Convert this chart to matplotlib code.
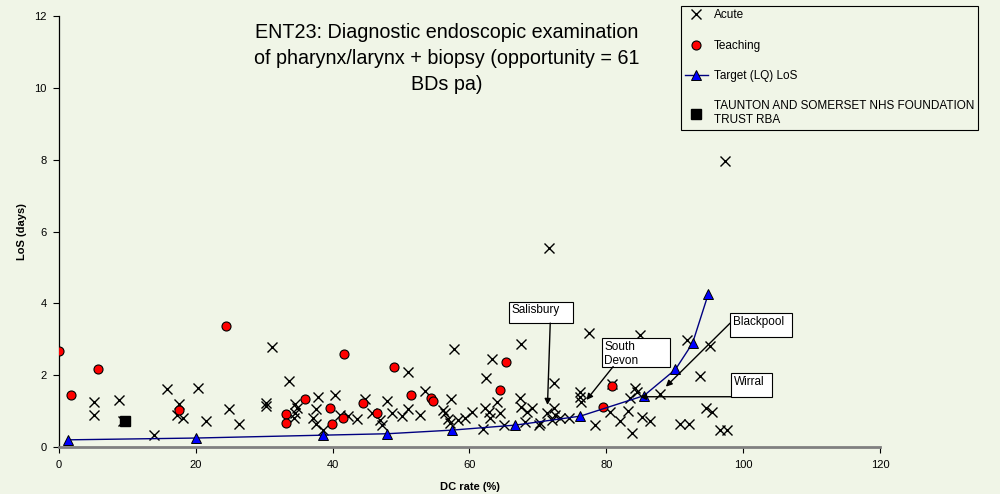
import matplotlib
matplotlib.use("Agg")
import matplotlib.pyplot as plt
from matplotlib.patches import Rectangle

BG = "#F0F5E7"

# Acute trusts (DC rate %, LoS days)
acute_x = [5.1, 5.1, 8.8, 9.3, 13.9, 15.8, 17.6, 17.3, 18.1, 20.3, 21.5, 24.8, 26.3,
           30.2, 30.2, 31.2, 33.6, 34.5, 34.8, 34.5, 34.4, 37.9, 37.6, 37.1, 37.6, 38.6,
           40.3, 41.1, 42.2, 43.5, 44.7, 45.7, 46.9, 47.2, 47.9, 48.7, 50.2, 51.0, 51.0,
           52.8, 53.5, 56.1, 56.4, 56.9, 57.2, 57.3, 57.8, 58.3, 59.3, 60.3,
           62.0, 62.3, 62.8, 63.0, 62.4, 63.3, 64.0, 64.5, 65.0, 67.6, 67.4, 67.6, 68.4,
           69.1, 68.1, 70.1, 71.6, 72.3, 71.3, 72.3, 72.5, 72.0, 73.2, 70.3, 74.5, 77.5,
           76.1, 76.1, 76.3, 78.4, 80.6, 80.8, 82.0, 83.2, 83.5, 84.2, 84.5, 83.7, 84.9,
           85.2, 86.4, 87.9, 90.8, 92.1, 91.8, 93.7, 94.6, 95.5, 95.1, 96.6, 97.6, 97.4]
acute_y = [1.26, 0.88, 1.31, 0.73, 0.34, 1.61, 1.20, 0.89, 0.80, 1.65, 0.72, 1.06, 0.63,
           1.22, 1.13, 2.79, 1.83, 1.20, 1.10, 0.94, 0.80, 1.38, 1.07, 0.80, 0.63, 0.47,
           1.45, 0.89, 0.86, 0.77, 1.34, 0.94, 0.75, 0.61, 1.29, 0.94, 0.86, 1.06, 2.09,
           0.89, 1.55, 1.03, 0.94, 0.77, 0.66, 1.33, 2.74, 0.75, 0.80, 0.98,
           0.49, 1.08, 0.98, 0.80, 1.91, 2.45, 1.26, 0.94, 0.61, 2.87, 1.36, 1.12, 0.98,
           1.08, 0.70, 0.61, 5.54, 1.79, 0.94, 1.08, 0.89, 0.75, 0.80, 0.67, 0.80, 3.17,
           1.54, 1.40, 1.26, 0.61, 0.98, 1.75, 0.73, 1.01, 1.36, 1.63, 1.54, 0.38, 3.12,
           0.83, 0.73, 1.48, 0.64, 0.64, 2.98, 1.98, 1.08, 0.98, 2.81, 0.47, 0.47, 7.97]

# Teaching trusts
teach_x = [0.0, 1.75, 5.65, 17.6, 24.4, 33.2, 33.2, 36.0, 39.6, 39.9, 41.7, 41.5,
           44.4, 46.5, 49.0, 51.5, 54.3, 54.6, 64.4, 65.4, 79.5, 80.8]
teach_y = [2.68, 1.44, 2.17, 1.03, 3.36, 0.92, 0.67, 1.34, 1.10, 0.65, 2.59, 0.80,
           1.23, 0.94, 2.22, 1.44, 1.36, 1.29, 1.58, 2.37, 1.12, 1.70]

# Target (LQ) LoS
target_x = [1.3, 20.0, 38.6, 48.0, 57.4, 66.7, 76.2, 85.5, 90.1, 92.6, 94.9]
target_y = [0.20, 0.25, 0.33, 0.37, 0.47, 0.61, 0.86, 1.43, 2.16, 2.89, 4.26]

# Highlighted trust
trust_x = [9.6]
trust_y = [0.73]

x_ticks = [0, 20, 40, 60, 80, 100, 120]
y_ticks = [0, 2, 4, 6, 8, 10, 12]

# callouts: label, box (x0, y0, x1, y1), arrow start, arrow end
callouts = [
    ("Salisbury", (65.8, 3.45, 75.2, 4.05), (71.8, 3.45), (71.4, 1.17)),
    ("South\nDevon", (79.3, 2.24, 89.3, 3.04), (81.0, 2.24), (77.1, 1.31)),
    ("Blackpool", (98.1, 3.06, 107.2, 3.72), (98.1, 3.45), (88.7, 1.68)),
    ("Wirral", (98.2, 1.40, 104.2, 2.07), (98.2, 1.40), (84.9, 1.40)),
]

plt.rcParams["font.family"] = ["Liberation Sans", "DejaVu Sans"]

fig = plt.figure(figsize=(10, 4.94), dpi=100, facecolor=BG)
ax = fig.add_axes([0.059, 0.0951, 0.821, 0.8725])
ax.set_facecolor(BG)

ax.plot(acute_x, acute_y, "x", color="black", ms=7, mew=1.0, ls="none",
        label="Acute", zorder=3)
ax.plot(teach_x, teach_y, "o", mfc="#FF0000", mec="black", ms=6.5, mew=0.8,
        ls="none", label="Teaching", zorder=4)
ax.plot(target_x, target_y, "-^", color="#000080", lw=1.0, mfc="#0000FF",
        mec="black", ms=6.5, mew=0.7, label="Target (LQ) LoS", zorder=5)
ax.plot(trust_x, trust_y, "s", color="black", ms=7, ls="none",
        label="TAUNTON AND SOMERSET NHS FOUNDATION\nTRUST RBA", zorder=6)

for label, (x0, y0, x1, y1), start, end in callouts:
    ax.add_patch(Rectangle((x0, y0), x1 - x0, y1 - y0, facecolor="white",
                           edgecolor="black", lw=0.8, zorder=7, clip_on=False))
    ax.text(x0 + 0.4, y1 - 0.08, label, ha="left", va="top", fontsize=8.5,
            zorder=8, linespacing=1.3, clip_on=False)
    ax.annotate("", xy=end, xytext=start,
                arrowprops=dict(arrowstyle="-|>", color="black", lw=1.0,
                                mutation_scale=9, shrinkA=0, shrinkB=0),
                zorder=8, annotation_clip=False)

ax.set_xlim(0, 120)
ax.set_ylim(0, 12)
ax.set_xticks(x_ticks)
ax.set_yticks(y_ticks)
ax.tick_params(labelsize=8, length=4, width=0.8, color="black", pad=5)
for s in ("top", "right"):
    ax.spines[s].set_visible(False)
ax.spines["left"].set_linewidth(0.9)
ax.spines["bottom"].set_color("#808080")
ax.spines["bottom"].set_linewidth(2.0)
ax.set_xlabel("DC rate (%)", fontsize=8, fontweight="bold", labelpad=9)
ax.set_ylabel("LoS (days)", fontsize=8, fontweight="bold", labelpad=5)

fig.text(0.447, 0.953,
         "ENT23: Diagnostic endoscopic examination\nof pharynx/larynx + biopsy (opportunity = 61\nBDs pa)",
         ha="center", va="top", fontsize=14.2, linespacing=1.45)

leg = fig.legend(loc="upper left", bbox_to_anchor=(0.681, 0.988), fontsize=8.5,
                 frameon=True, fancybox=False, edgecolor="black",
                 facecolor=BG, framealpha=1, labelspacing=1.55,
                 handlelength=2.0, handletextpad=0.5, borderpad=0.3,
                 borderaxespad=0)
leg.get_frame().set_linewidth(0.8)

fig.savefig("out.png", dpi=100, facecolor=BG)
